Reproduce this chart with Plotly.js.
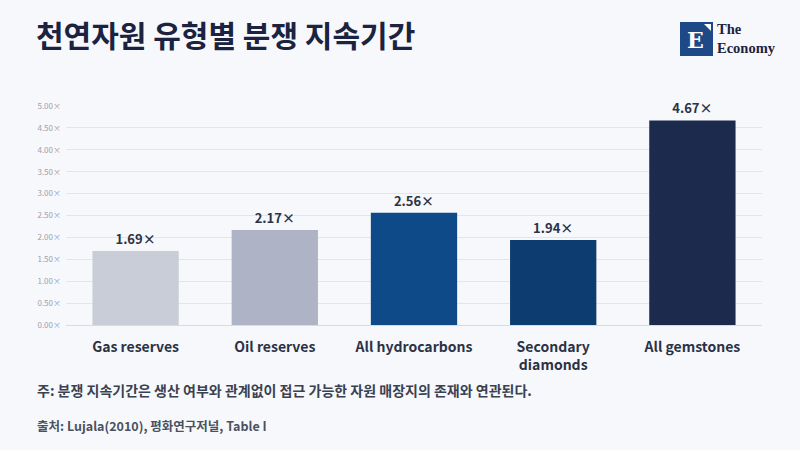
<!DOCTYPE html>
<html>
<head>
<meta charset="utf-8">
<script src="https://cdn.plot.ly/plotly-3.0.1.min.js"></script>
<style>
html,body{margin:0;padding:0;background:#f7f8fc;}
#chart{width:800px;height:450px;}
</style>
</head>
<body>
<div id="chart"></div>
<script>
const categories = ["Gas reserves", "Oil reserves", "All hydrocarbons", "Secondary<br>diamonds", "All gemstones"];
const values = [1.69, 2.17, 2.56, 1.94, 4.67];
const valueLabels = ["1.69×", "2.17×", "2.56×", "1.94×", "4.67×"];
const barColors = ["#c9cdd7", "#aeb3c5", "#0e4a88", "#0c3c70", "#1c2a4e"];
const tickVals = [0, 0.5, 1, 1.5, 2, 2.5, 3, 3.5, 4, 4.5, 5];
const tickText = ["0.00×", "0.50×", "1.00×", "1.50×", "2.00×", "2.50×", "3.00×", "3.50×", "4.00×", "4.50×", "5.00×"];

const KR = "'Noto Sans CJK KR', 'Noto Sans', sans-serif";

const trace = {
  type: "bar",
  x: categories,
  y: values,
  marker: {color: barColors},
  text: valueLabels,
  textposition: "outside",
  textfont: {family: KR, size: 13, color: "#2a3245", weight: 700},
  cliponaxis: false,
  hoverinfo: "skip"
};

const px = v => (v - 66) / 696;   // helper: pixel x -> paper
const py = v => (325 - v) / 219;  // helper: pixel y -> paper

const layout = {
  width: 800, height: 450,
  paper_bgcolor: "#f7f8fc",
  plot_bgcolor: "#f7f8fc",
  margin: {l: 66, r: 38, t: 106, b: 125},
  bargap: 0.38,
  showlegend: false,
  font: {family: KR},
  title: {
    text: "<b>천연자원 유형별 분쟁 지속기간</b>",
    x: 0.045, xanchor: "left", y: 0.918, yanchor: "middle",
    font: {family: KR, size: 30, color: "#1b2340"}
  },
  xaxis: {
    tickfont: {family: KR, size: 14, color: "#2a3245", weight: 700},
    showgrid: false, showline: false, zeroline: false,
    ticks: "", ticklabelstandoff: 12, fixedrange: true
  },
  yaxis: {
    range: [0, 5.0],
    tickvals: tickVals, ticktext: tickText,
    tickfont: {family: KR, size: 8, color: "#9aa0ad"},
    gridcolor: "#e3e5ec", gridwidth: 1,
    zeroline: true, zerolinecolor: "#d8dbe3", zerolinewidth: 1,
    showline: false, ticks: "", ticklabelstandoff: 4, fixedrange: true
  },
  shapes: [
    {type: "rect", xref: "paper", yref: "paper",
     x0: px(680), x1: px(713), y0: py(56), y1: py(22),
     fillcolor: "#1d4a86", line: {width: 0}, layer: "below"},
    {type: "path", xref: "paper", yref: "paper",
     path: "M " + px(704) + " " + py(24) + " L " + px(711) + " " + py(24) + " L " + px(711) + " " + py(31) + " Z",
     fillcolor: "#ffffff", line: {width: 0}}
  ],
  annotations: [
    {text: "주: 분쟁 지속기간은 생산 여부와 관계없이 접근 가능한 자원 매장지의 존재와 연관된다.",
     xref: "paper", yref: "paper", x: px(35), y: py(390), xanchor: "left", yanchor: "middle",
     showarrow: false, font: {family: KR, size: 14, color: "#3a4150", weight: 600}},
    {text: "출처: Lujala(2010), 평화연구저널, Table I",
     xref: "paper", yref: "paper", x: px(35), y: py(425), xanchor: "left", yanchor: "middle",
     showarrow: false, font: {family: KR, size: 12.5, color: "#4a5160", weight: 600}},
    {text: "<b>E</b>",
     xref: "paper", yref: "paper", x: px(695), y: py(40), xanchor: "center", yanchor: "middle",
     showarrow: false, font: {family: "DejaVu Serif, serif", size: 22, color: "#ffffff"}},
    {text: "The<br>Economy",
     xref: "paper", yref: "paper", x: px(715), y: py(39), xanchor: "left", yanchor: "middle",
     align: "left", showarrow: false, font: {family: "Liberation Serif, serif", size: 14.5, color: "#1b2340", weight: 700}}
  ]
};

Plotly.newPlot("chart", [trace], layout, {displayModeBar: false, staticPlot: true});
</script>
</body>
</html>
